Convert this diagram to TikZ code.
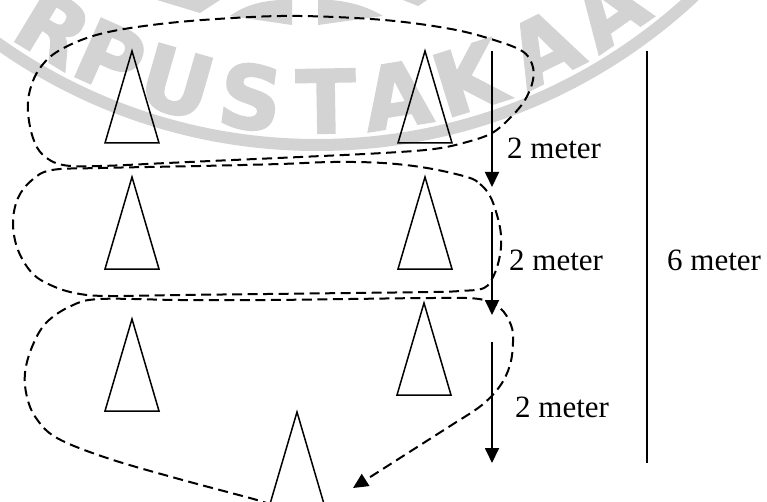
\documentclass[tikz,border=0pt]{standalone}
\usepackage{fontspec}
\setmainfont{Liberation Serif}
\newfontfamily\wmfont{DejaVu Sans}[UprightFont={* Bold}, FakeBold=2.5]
\usetikzlibrary{arrows.meta}
\definecolor{wmgray}{RGB}{211,211,211}
\tikzset{
  conestroke/.style={line width=1.5pt, line join=miter},
  pics/cone/.style={code={\draw[conestroke] (0,0) -- (-27,92) -- (27,92) -- cycle;}},
  route/.style={line width=2pt, dash pattern=on 10pt off 5.5pt},
  measure/.style={line width=1.8pt, -{Triangle[length=15pt,width=14pt]}},
  dimtext/.style={font=\fontsize{31}{31}\selectfont, inner sep=0pt, anchor=base west},
  wmletter/.style={text=wmgray, font=\wmfont\fontsize{87}{87}\selectfont, inner sep=0pt, anchor=base},
}
\begin{document}
\begin{tikzpicture}[x=1pt,y=-1pt]
\useasboundingbox (0,0) rectangle (767,502);
\clip (0,0) rectangle (767,502);

% library stamp in the background
\draw[wmgray, line width=12pt] (317,-407) circle[radius=552];
\foreach \ch/\a [count=\i] in {R/-31.2,P/-24,U/-16,S/-7.5,T/1,A/9,K/17.3,A/26.5,A/35}
  \node[wmletter, rotate=\a] (wm\i) at ({317+540*sin(\a)},{-407+540*cos(\a)}) {\ch};
\fill[wmgray] (157,0) -- (220,0) -- (200,13) -- cycle;
\fill[wmgray] (230,16) .. controls (245,5) and (262,1) .. (280,0) -- (292,0) -- (292,25) -- cycle;
\fill[wmgray] (318,0) -- (318,25) -- (383,16) .. controls (365,5) and (345,1) .. (330,0) -- cycle;
\fill[wmgray] (403,0) -- (427,0) -- (418,6) -- cycle;

% cones
\pic at (132,51) {cone};
\pic at (425,51) {cone};
\pic at (132,177) {cone};
\pic at (425,177) {cone};
\pic at (132,319) {cone};
\pic at (424,303) {cone};
\pic at (297,412) {cone};

% running route
\draw[route] plot[smooth cycle, tension=0.6] coordinates {
  (467,142) (492,133) (510,118) (525,100) (533,80) (532,64) (522,51) (494,40)
  (451,29) (384,20) (300,16) (233,18) (160,24) (100,34) (60,50) (40,68)
  (30,90) (28,112) (33,138) (43,155) (63,165) (100,166) (167,163) (233,160)
  (300,157) (383,153) (434,149)};
\draw[route] plot[smooth cycle, tension=0.6] coordinates {
  (467,177) (480,184) (490,196) (497,215) (501,235) (500,255) (494,275) (484,288)
  (460,291) (433,292) (350,293) (267,294) (180,295) (110,296) (80,294) (55,287)
  (33,274) (18,250) (13,223) (18,198) (32,180) (52,170) (100,168) (200,166)
  (280,164) (333,162) (383,163) (427,168)};
\coordinate (routeend) at (353,488);
\draw[route, -{Triangle[length=15pt,width=14pt]}] plot[smooth, tension=0.6] coordinates {
  (272,506) (257,500) (179,479) (107,458) (57,438) (36,418) (27,397) (25,373)
  (32,347) (46,323) (71,306) (100,299) (180,300) (267,300) (350,299) (433,298)
  (479,299) (500,308) (511,325) (513,342) (510,365) (500,386) (482,405) (458,421)}
  -- (routeend);

% distance arrows
\coordinate (a1s) at (492,51);  \coordinate (a1e) at (492,187);
\coordinate (a2s) at (492,212); \coordinate (a2e) at (492,315);
\coordinate (a3s) at (492,342); \coordinate (a3e) at (492,463);
\draw[measure] (a1s) -- (a1e);
\draw[measure] (a2s) -- (a2e);
\draw[measure] (a3s) -- (a3e);
\coordinate (ts) at (647,51); \coordinate (te) at (647,463);
\draw[line width=1.2pt] (ts) -- (te);

% labels
\node[dimtext] (d1) at (507,159) {2 meter};
\node[dimtext] (d2) at (509,270) {2 meter};
\node[dimtext] (d3) at (515,417) {2 meter};
\node[dimtext] (total) at (667,270) {6 meter};
\end{tikzpicture}
\end{document}
